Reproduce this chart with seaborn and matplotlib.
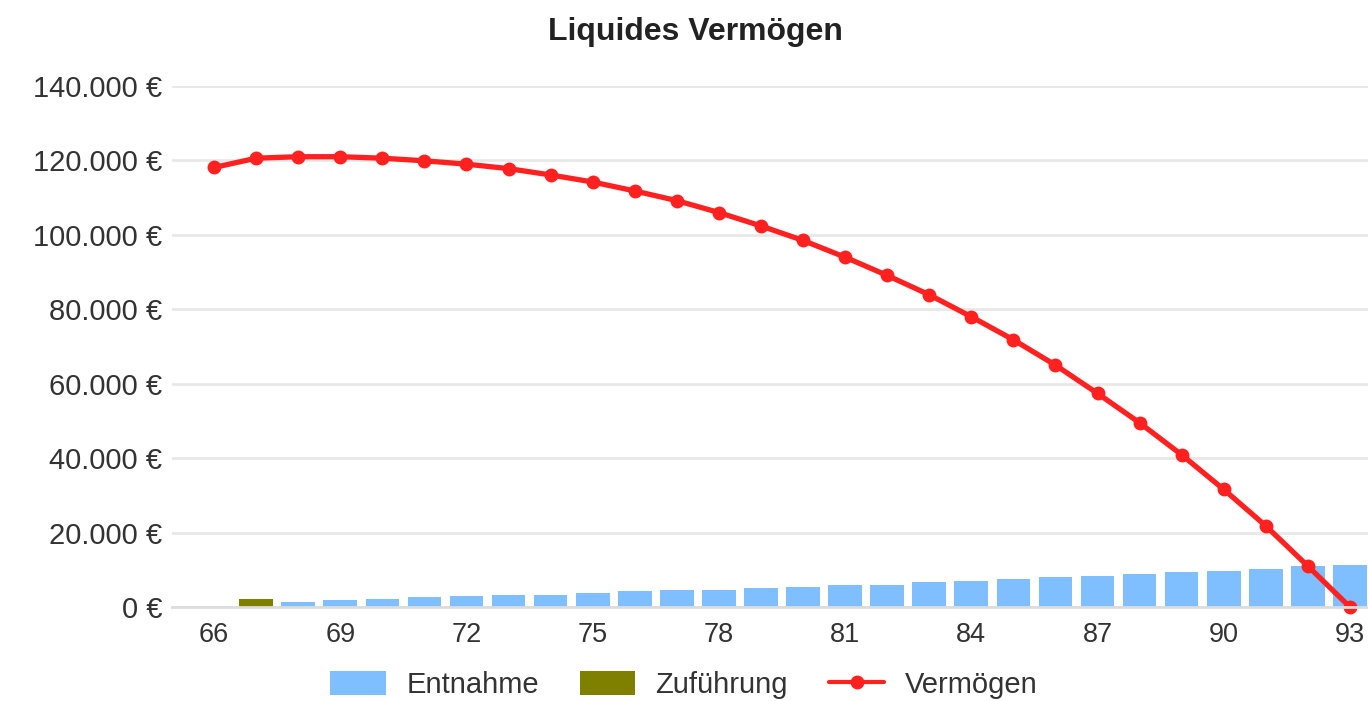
import matplotlib
matplotlib.use("Agg")
import matplotlib.pyplot as plt
from matplotlib.patches import Patch
from matplotlib.lines import Line2D
from matplotlib.ticker import FuncFormatter, MultipleLocator
import pandas as pd
import seaborn as sns

ages = list(range(66, 94))
entnahme = [0, 0, 1430, 1790, 2240, 2600, 2870, 3140, 3300, 3650, 4200, 4470, 4570, 5190,
            5270, 5910, 6000, 6720, 6880, 7530, 8000, 8300, 8900, 9400, 9650, 10250, 10900, 11200]
zufuehrung = [0, 2150, 0, 0, 0, 0, 0, 0, 0, 0, 0, 0, 0, 0,
              0, 0, 0, 0, 0, 0, 0, 0, 0, 0, 0, 0, 0, 0]
vermoegen = [118100, 120600, 121000, 121000, 120600, 119900, 119000, 117800, 116100, 114200,
             111800, 109200, 106000, 102400, 98500, 94000, 89100, 83900, 78000, 71800,
             65000, 57400, 49500, 40900, 31600, 21800, 11000, 0]

series_names = ["Entnahme", "Zuführung"]
bar_colors = {"Entnahme": "#80bfff", "Zuführung": "#808000"}
line_color = "#ff2020"


def euro(v, _pos=None):
    return f"{int(v):,}".replace(",", ".") + " €"


sns.set_theme(style="white")
plt.rcParams["font.family"] = ["Liberation Sans", "DejaVu Sans"]

bars = pd.DataFrame({
    "age": ages * 2,
    "value": entnahme + zufuehrung,
    "typ": ["Entnahme"] * len(ages) + ["Zuführung"] * len(ages),
})

fig = plt.figure(figsize=(13.68, 7.01), dpi=100)
ax = fig.add_axes([172 / 1368, 1 - 607 / 701, 1 - 172 / 1368, (607 - 86) / 701])

sns.barplot(data=bars, x="age", y="value", hue="typ", hue_order=series_names,
            palette=bar_colors, native_scale=True, dodge=False, width=0.8,
            linewidth=0, saturation=1, legend=False, ax=ax)
sns.lineplot(x=ages, y=vermoegen, color=line_color, linewidth=3.8, marker="o",
             markersize=10, markeredgewidth=0, clip_on=False, ax=ax, legend=False)

ax.set_xlim(65, 93.43)
ax.set_ylim(0, 140000)
ax.xaxis.set_minor_locator(MultipleLocator(1))
ax.set_xticks(list(range(66, 94, 3)))
ax.yaxis.set_major_locator(MultipleLocator(20000))
ax.yaxis.set_major_formatter(FuncFormatter(euro))
ax.set_xlabel("")
ax.set_ylabel("")

ax.yaxis.grid(True, color="#e8e8e8", linewidth=2)
ax.set_axisbelow(True)
for side in ["top", "right", "left"]:
    ax.spines[side].set_visible(False)
ax.spines["bottom"].set_color("#dcdcdc")
ax.spines["bottom"].set_linewidth(2)

ax.tick_params(axis="x", which="both", length=7, width=1.5, color="#dddddd",
               labelsize=19.5, labelcolor="#333333", pad=4)
ax.tick_params(axis="y", length=0, labelsize=21, labelcolor="#333333", pad=7)

fig.text(695 / 1368, 1 - 32 / 701, "Liquides Vermögen", ha="center", va="center",
         fontsize=23, fontweight="bold", color="#222222")

handles = [Patch(facecolor=bar_colors[n], edgecolor="none") for n in series_names]
handles.append(Line2D([], [], color=line_color, linewidth=3, marker="o",
                      markersize=10, markeredgewidth=0))
fig.legend(handles, series_names + ["Vermögen"], loc="center",
           bbox_to_anchor=(684 / 1368, 1 - 685 / 701), ncol=3, frameon=False,
           fontsize=21, handlelength=1.9, handleheight=0.85, handletextpad=0.7,
           columnspacing=1.4, labelcolor="#333333")

fig.savefig("out.png", dpi=100)
